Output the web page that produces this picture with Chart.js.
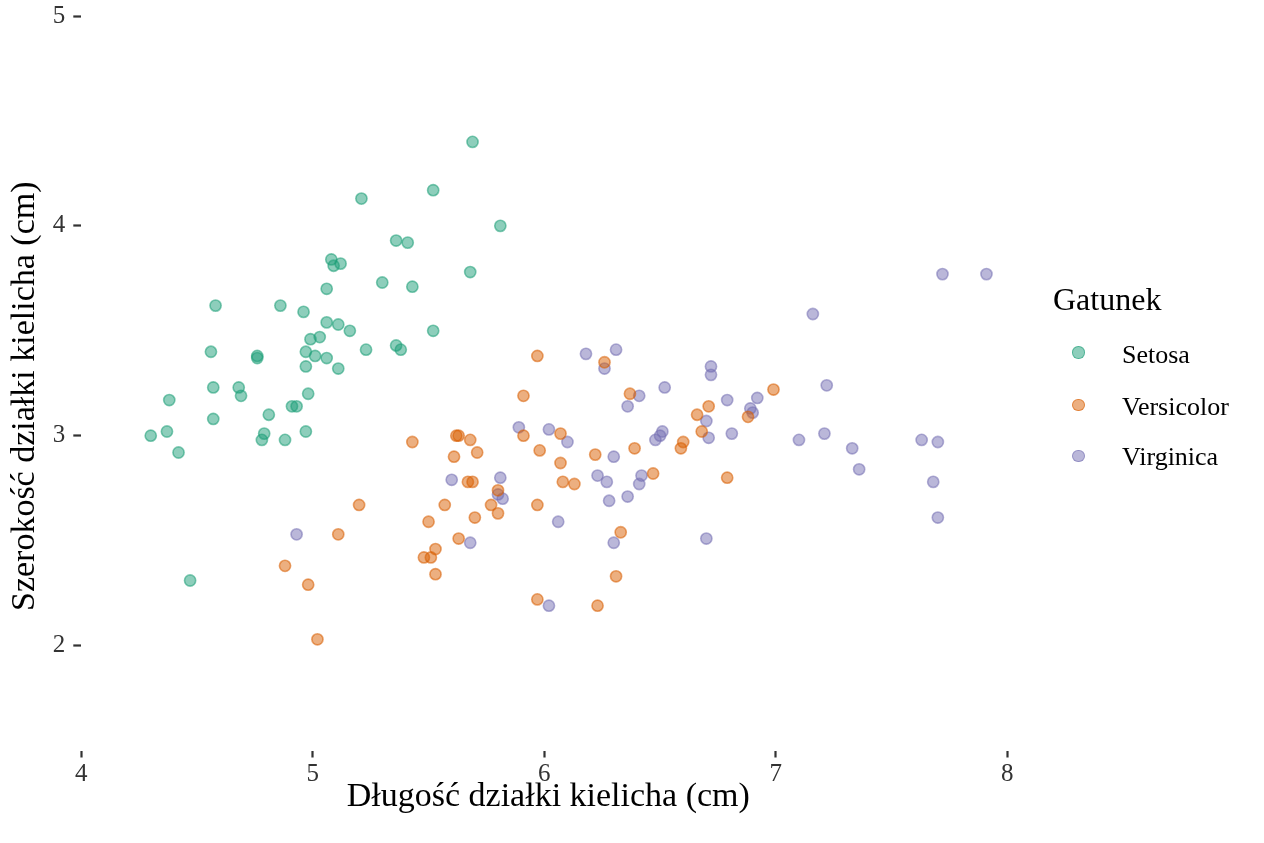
<!DOCTYPE html>
<html>
<head>
<meta charset="utf-8">
<script src="https://cdn.jsdelivr.net/npm/chart.js@4.4.1/dist/chart.umd.min.js"></script>
<style>
html,body{margin:0;padding:0;background:#fff;}
#wrap{position:relative;width:1264px;height:843px;overflow:hidden;}
#c{position:absolute;left:0;top:0;}
.lg{position:absolute;font-family:"Liberation Serif","Times New Roman",serif;color:#000;white-space:nowrap;}
.key{position:absolute;width:12.5px;height:12.5px;border-radius:50%;box-sizing:border-box;border-style:solid;border-width:1.5px;}
</style>
</head>
<body>
<div id="wrap">
<canvas id="c" width="1264" height="843"></canvas>
<div id="legend"></div>
</div>
<script>
// ---- data ----
const species = ["Setosa", "Versicolor", "Virginica"];
const legendTitle = "Gatunek";
const xTitle = "Długość działki kielicha (cm)";
const yTitle = "Szerokość działki kielicha (cm)";
const xTicks = [4, 5, 6, 7, 8];
const yTicks = [2, 3, 4, 5];

const setosaX = [5.21,5.52,5.69,5.36,5.41,5.08,5.09,5.12,5.30,5.43,5.06,4.58,4.86,4.96,5.06,5.11,5.16,5.52,4.99,5.03,4.56,4.76,4.76,4.97,5.01,5.06,4.97,5.11,5.23,5.36,5.38,4.57,4.68,4.69,4.38,4.98,4.91,4.93,4.81,4.57,4.30,4.37,4.42,4.79,4.78,4.88,4.97,5.81,5.68,4.47];
const setosaY = [4.13,4.17,4.40,3.93,3.92,3.84,3.81,3.82,3.73,3.71,3.70,3.62,3.62,3.59,3.54,3.53,3.50,3.50,3.46,3.47,3.40,3.38,3.37,3.40,3.38,3.37,3.33,3.32,3.41,3.43,3.41,3.23,3.23,3.19,3.17,3.20,3.14,3.14,3.10,3.08,3.00,3.02,2.92,3.01,2.98,2.98,3.02,4.00,3.78,2.31];

const versicolorX = [5.43,5.62,5.63,5.68,5.61,5.71,5.98,5.67,5.69,5.80,5.77,5.80,5.57,5.50,5.70,5.20,5.11,5.63,5.53,5.48,5.51,5.53,4.88,4.98,5.02,5.97,5.97,5.97,5.91,5.91,6.26,6.37,6.66,6.68,6.07,6.07,6.22,6.39,6.60,6.59,6.08,6.13,6.47,6.33,6.31,6.23,6.99,6.71,6.88,6.79];
const versicolorY = [2.97,3.00,3.00,2.98,2.90,2.92,2.93,2.78,2.78,2.74,2.67,2.63,2.67,2.59,2.61,2.67,2.53,2.51,2.46,2.42,2.42,2.34,2.38,2.29,2.03,2.67,2.22,3.38,3.19,3.00,3.35,3.20,3.10,3.02,3.01,2.87,2.91,2.94,2.97,2.94,2.78,2.77,2.82,2.54,2.33,2.19,3.22,3.14,3.09,2.80];

const virginicaX = [5.89,5.60,5.81,5.80,5.82,4.93,5.68,6.18,6.31,6.26,6.41,6.36,6.52,6.02,6.10,6.30,6.51,6.50,6.48,6.23,6.27,6.42,6.41,6.28,6.36,6.06,6.30,6.02,7.72,7.91,7.16,6.72,6.72,7.22,6.79,6.92,6.89,6.90,6.70,6.71,6.81,7.10,7.21,7.33,7.36,7.63,7.70,7.68,7.70,6.70];
const virginicaY = [3.04,2.79,2.80,2.72,2.70,2.53,2.49,3.39,3.41,3.32,3.19,3.14,3.23,3.03,2.97,2.90,3.02,3.00,2.98,2.81,2.78,2.81,2.77,2.69,2.71,2.59,2.49,2.19,3.77,3.77,3.58,3.33,3.29,3.24,3.17,3.18,3.13,3.11,3.07,2.99,3.01,2.98,3.01,2.94,2.84,2.98,2.97,2.78,2.61,2.51];

// ---- styling ----
const FONT = '"Liberation Serif", "Times New Roman", serif';
const colors = ["27,158,119", "217,95,2", "117,112,179"];
const fills = colors.map(c => `rgba(${c},0.5)`);
const strokes = colors.map(c => `rgba(${c},0.55)`);

const xs = [setosaX, versicolorX, virginicaX];
const ys = [setosaY, versicolorY, virginicaY];

const datasets = species.map((name, i) => ({
  label: name,
  data: xs[i].map((x, j) => ({ x: x, y: ys[i][j] })),
  backgroundColor: fills[i],
  borderColor: strokes[i],
  borderWidth: 1.6,
  pointRadius: 5.6,
  pointHoverRadius: 5.6
}));

const tickGrid = {
  display: true,
  drawOnChartArea: false,
  drawTicks: true,
  tickLength: 8,
  tickWidth: 2.2,
  tickColor: '#333333'
};

function noScalePadding(s) {
  s.paddingTop = 0; s.paddingBottom = 0; s.paddingLeft = 0; s.paddingRight = 0;
}

// shifts only where the axis titles are centred (ggplot-like placement)
const titleShift = {
  id: 'titleShift',
  afterLayout(chart) {
    const y = chart.scales.y;
    y.top += 13; y.bottom += 13;
    const x = chart.scales.x;
    x.left += 4; x.right += 4;
  }
};

new Chart(document.getElementById('c'), {
  type: 'scatter',
  data: { datasets: datasets },
  plugins: [titleShift],
  options: {
    responsive: false,
    animation: false,
    events: [],
    layout: { padding: { left: 0, right: 256.7, top: 16, bottom: 0 } },
    plugins: {
      legend: { display: false },
      tooltip: { enabled: false },
      title: { display: false }
    },
    scales: {
      x: {
        type: 'linear',
        min: 4, max: 8,
        afterBuildTicks: s => { s.ticks = xTicks.map(v => ({ value: v })); },
        afterFit: s => { s.height = 92.5; noScalePadding(s); },
        grid: Object.assign({}, tickGrid, { tickLength: 7 }),
        border: { display: false },
        ticks: { font: { family: FONT, size: 25 }, color: '#333333', padding: 2, maxRotation: 0 },
        title: { display: true, text: xTitle, font: { family: FONT, size: 34 }, color: '#000', padding: { top: 0, bottom: 26 } }
      },
      y: {
        type: 'linear',
        min: 1.5, max: 5,
        afterBuildTicks: s => { s.ticks = yTicks.map(v => ({ value: v })); },
        afterFit: s => { s.width = 81.3; noScalePadding(s); },
        grid: tickGrid,
        border: { display: false },
        ticks: { font: { family: FONT, size: 25 }, color: '#333333', padding: 8 },
        title: { display: true, text: yTitle, font: { family: FONT, size: 34 }, color: '#000', padding: { top: 5, bottom: 0 } }
      }
    }
  }
});

// ---- legend (HTML text) ----
const lg = document.getElementById('legend');
const t = document.createElement('div');
t.className = 'lg';
t.textContent = legendTitle;
t.style.cssText = 'left:1053px;top:283px;font-size:32px;line-height:32px;';
lg.appendChild(t);
const keyCY = [352.5, 405, 456];
const labCY = [354.7, 406.7, 457];
species.forEach((name, i) => {
  const k = document.createElement('div');
  k.className = 'key';
  k.style.left = (1078.7 - 6.25) + 'px';
  k.style.top = (keyCY[i] - 6.25) + 'px';
  k.style.background = fills[i];
  k.style.borderColor = strokes[i];
  lg.appendChild(k);
  const l = document.createElement('div');
  l.className = 'lg';
  l.textContent = name;
  l.style.left = '1122px';
  l.style.top = (labCY[i] - 13.1) + 'px';
  l.style.fontSize = '26px';
  l.style.lineHeight = '26px';
  lg.appendChild(l);
});
</script>
</body>
</html>
